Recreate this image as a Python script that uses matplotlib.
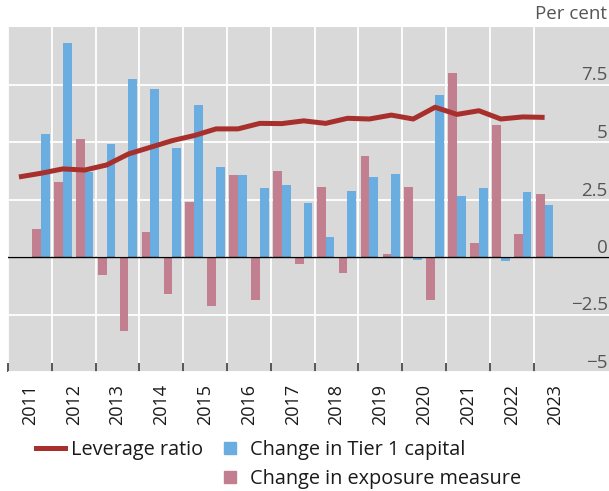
import matplotlib
matplotlib.use('Agg')
import matplotlib.pyplot as plt
from matplotlib.lines import Line2D
import numpy as np

plt.rcParams['font.family'] = ['Open Sans', 'DejaVu Sans']

# Half-year periods (leverage ratio from 2011H1, changes from 2011H2)
periods = ['2011H1', '2011H2', '2012H1', '2012H2', '2013H1', '2013H2', '2014H1', '2014H2',
           '2015H1', '2015H2', '2016H1', '2016H2', '2017H1', '2017H2', '2018H1', '2018H2',
           '2019H1', '2019H2', '2020H1', '2020H2', '2021H1', '2021H2', '2022H1', '2022H2',
           '2023H1']
leverage = [3.48, 3.64, 3.83, 3.78, 4.0, 4.48, 4.77, 5.06, 5.28, 5.57, 5.57, 5.81, 5.80,
            5.92, 5.81, 6.03, 6.0, 6.17, 6.0, 6.51, 6.20, 6.36, 6.0, 6.09, 6.07]
tier1 = [5.35, 9.30, 3.71, 4.91, 7.74, 7.30, 4.74, 6.61, 3.91, 3.57, 3.0, 3.13, 2.35, 0.87,
         2.87, 3.48, 3.61, -0.13, 7.04, 2.65, 3.0, -0.17, 2.83, 2.26]
exposure = [1.22, 3.26, 5.13, -0.78, -3.22, 1.09, -1.61, 2.39, -2.13, 3.57, -1.87, 3.74,
            -0.30, 3.04, -0.70, 4.39, 0.13, 3.04, -1.87, 8.0, 0.61, 5.74, 1.0, 2.74]
years = list(range(2011, 2024))
ytick_vals = [-5, -2.5, 0, 2.5, 5, 7.5]
ytick_labels = ['\u22125', '\u22122.5', '0', '2.5', '5', '7.5']

blue = '#6aade0'
pink = '#c27f8f'
red = '#a8302c'
grey_bg = '#d9d9d9'

# period -> position in years (middle of each half year)
pos = np.array([int(p[:4]) + (0.25 if p.endswith('H1') else 0.75) for p in periods])
bar_pos = pos[1:]
w = 0.2

fig = plt.figure(figsize=(6.09, 4.91), dpi=100)
ax = fig.add_axes([8 / 609, 1 - 372 / 491, 601 / 609, (372 - 27) / 491])
ax.set_facecolor(grey_bg)
ax.set_axisbelow(True)

ax.bar(bar_pos - w / 2, exposure, width=w, color=pink, zorder=2)
ax.bar(bar_pos + w / 2, tier1, width=w, color=blue, zorder=2)
ax.axhline(0, color='black', lw=1, zorder=3)
ax.plot(pos, leverage, color=red, lw=3.6, zorder=4, solid_capstyle='butt')

ax.set_xlim(2011, 2024.72)
ax.set_ylim(-5, 10)

for s in ax.spines.values():
    s.set_visible(False)

ax.set_xticks(years)
ax.set_xticklabels([])
ax.set_xticks([y + 0.5 for y in years], minor=True)
ax.set_xticklabels([str(y) for y in years], minor=True, rotation=90, fontsize=13,
                   color='#1a1a1a')
ax.tick_params(axis='x', which='major', direction='in', length=6.5, width=1.2, color='#3a3a3a')
ax.tick_params(axis='x', which='minor', length=0, pad=8.5)
ax.grid(axis='x', which='major', color='white', lw=1.3)

ax.set_yticks(ytick_vals)
ax.set_yticklabels(ytick_labels)
ax.yaxis.tick_right()
ax.tick_params(axis='y', length=0, pad=-1, labelsize=13.5, labelcolor='#555555')
for lab in ax.get_yticklabels():
    lab.set_horizontalalignment('right')
    lab.set_verticalalignment('bottom')
ax.grid(axis='y', color='white', lw=1.3)

fig.text(607 / 609, 1 - 14 / 491, 'Per cent', ha='right', va='center', fontsize=13.5,
         color='#555555')

handles = [Line2D([], [], color=red, lw=3.6),
           Line2D([], [], color='none'),
           Line2D([], [], marker='s', ls='none', color=blue, markersize=9.2),
           Line2D([], [], marker='s', ls='none', color=pink, markersize=9.2)]
labels = ['Leverage ratio', '', 'Change in Tier 1 capital', 'Change in exposure measure']
fig.legend(handles, labels, ncol=2, loc='upper left', bbox_to_anchor=(36 / 609, 1 - 440 / 491),
           frameon=False, fontsize=14.3, handlelength=1.46, handletextpad=0.3,
           columnspacing=0.62, borderpad=0, borderaxespad=0, labelspacing=0.45,
           labelcolor='#1a1a1a')

fig.savefig('out.png', dpi=100)
